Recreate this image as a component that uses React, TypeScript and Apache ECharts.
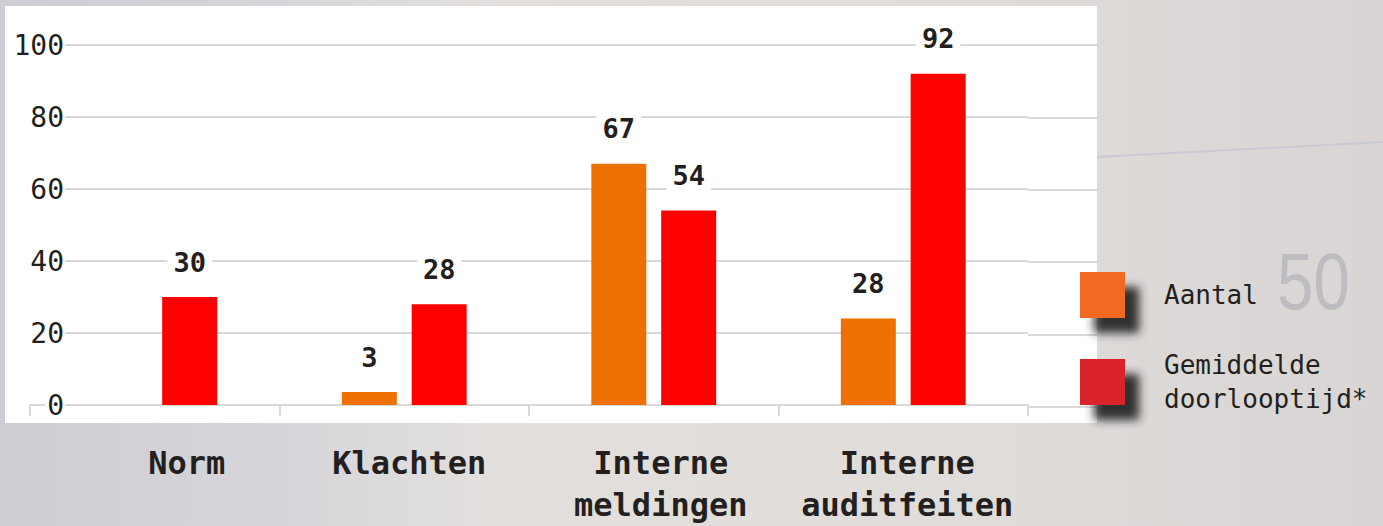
import React, { useEffect, useRef } from "react";
import * as echarts from "echarts";

const categories = ["Norm", "Klachten", "Interne\nmeldingen", "Interne\nauditfeiten"];
const aantalBars: (number | null)[] = [null, 3.6, 67, 24];
const aantalLabels = ["", "3", "67", "28"];
const doorlooptijdBars = [30, 28, 54, 92];
const doorlooptijdLabels = ["30", "28", "54", "92"];
const seriesNames = ["Aantal", "Gemiddelde\ndoorlooptijd*"];
const yMin = 0;
const yMax = 100;
const yInterval = 20;

const labelShift = [64, 10, 14, 8];

const FONT = "DejaVu Sans Mono";
const TEXT = "#231f20";
const GRID = "#d9d9d9";

export default function App() {
  const ref = useRef<HTMLDivElement>(null);
  useEffect(() => {
    document.body.style.margin = "0";
    const chart = echarts.init(ref.current!, undefined, { renderer: "svg" });
    const valueLabel = {
      show: true,
      position: "top",
      distance: 18,
      fontFamily: FONT,
      fontWeight: "bold",
      fontSize: 27,
      lineHeight: 30,
      color: TEXT,
      backgroundColor: "#ffffff",
      padding: [2, 6],
    };
    chart.setOption({
      animation: false,
      graphic: [
        {
          type: "rect",
          z: -10,
          silent: true,
          shape: { x: 0, y: 0, width: 1383, height: 526 },
          style: {
            fill: new echarts.graphic.LinearGradient(0, 0, 1, 0, [
              { offset: 0, color: "#cdcdd4" },
              { offset: 0.2, color: "#d6d5da" },
              { offset: 0.35, color: "#e2dfdd" },
              { offset: 0.7, color: "#dfdcda" },
              { offset: 1, color: "#d8d5d4" },
            ]),
          },
        },
        {
          type: "line",
          z: -9,
          silent: true,
          shape: { x1: 1097, y1: 157, x2: 1383, y2: 142 },
          style: { stroke: "#c9c9d3", lineWidth: 2 },
        },
        {
          type: "text",
          z: -9,
          silent: true,
          x: 1277,
          y: 242,
          scaleX: 0.82,
          style: {
            text: "50",
            fontFamily: "Liberation Sans",
            fontSize: 80,
            fill: "#bcbcc1",
          },
        },
        {
          type: "rect",
          z: -8,
          silent: true,
          shape: { x: 5, y: 6, width: 1092, height: 417 },
          style: { fill: "#ffffff" },
        },
      ],
      grid: [
        { left: 30, right: 355, top: 45, bottom: 119 },
        { left: 1028, right: 286, top: 45, bottom: 119 },
      ],
      legend: {
        orient: "vertical",
        left: 1080,
        top: 272,
        padding: 0,
        itemWidth: 45,
        itemHeight: 46,
        itemGap: 30,
        selectedMode: false,
        icon: "rect",
        itemStyle: {
          shadowBlur: 10,
          shadowColor: "rgba(40,40,40,0.95)",
          shadowOffsetX: 14,
          shadowOffsetY: 15,
        },
        textStyle: {
          fontFamily: FONT,
          fontSize: 26,
          lineHeight: 34,
          color: TEXT,
          padding: [0, 0, 0, 34],
        },
        data: [
          { name: seriesNames[0], itemStyle: { color: "#f26a22" } },
          { name: seriesNames[1], itemStyle: { color: "#da2029" } },
        ],
      },
      xAxis: [
        {
          type: "category",
          gridIndex: 0,
          data: categories.map((c, i) => ({
            value: c,
            textStyle: { padding: [0, 0, 0, labelShift[i]] },
          })),
          axisLine: { lineStyle: { color: GRID, width: 2 } },
          axisTick: { show: true, length: 11, lineStyle: { color: GRID, width: 2 } },
          axisLabel: {
            margin: 37,
            fontFamily: FONT,
            fontWeight: "bold",
            fontSize: 32,
            lineHeight: 42,
            color: TEXT,
            interval: 0,
          },
          splitLine: { show: false },
        },
        {
          type: "category",
          gridIndex: 1,
          data: ["", ""],
          show: false,
        },
      ],
      yAxis: [
        {
          type: "value",
          gridIndex: 0,
          min: yMin,
          max: yMax,
          interval: yInterval,
          axisLine: { show: false },
          axisTick: { show: false },
          axisLabel: {
            margin: -35,
            align: "right",
            fontFamily: FONT,
            fontSize: 28,
            color: TEXT,
            backgroundColor: "#ffffff",
            padding: [2, 1, 0, 2],
          },
          splitLine: { lineStyle: { color: GRID, width: 2 } },
        },
        {
          type: "value",
          gridIndex: 1,
          min: yMin,
          max: yMax,
          interval: yInterval,
          axisLine: { show: false },
          axisTick: { show: false },
          axisLabel: { show: false },
          splitLine: { lineStyle: { color: GRID, width: 2 } },
        },
      ],
      series: [
        {
          name: seriesNames[0],
          type: "bar",
          xAxisIndex: 0,
          yAxisIndex: 0,
          barWidth: 55,
          barGap: "27%",
          itemStyle: { color: "#ec7100" },
          label: valueLabel,
          data: aantalBars.map((v, i) => ({
            value: v,
            label: { formatter: aantalLabels[i] },
          })),
        },
        {
          name: seriesNames[1],
          type: "bar",
          xAxisIndex: 0,
          yAxisIndex: 0,
          barWidth: 55,
          barGap: "27%",
          itemStyle: { color: "#ff0000" },
          label: valueLabel,
          data: doorlooptijdBars.map((v, i) => ({
            value: v,
            label: { formatter: doorlooptijdLabels[i] },
          })),
        },
      ],
    });
    return () => chart.dispose();
  }, []);
  return <div ref={ref} style={{ width: 1383, height: 526 }} />;
}
